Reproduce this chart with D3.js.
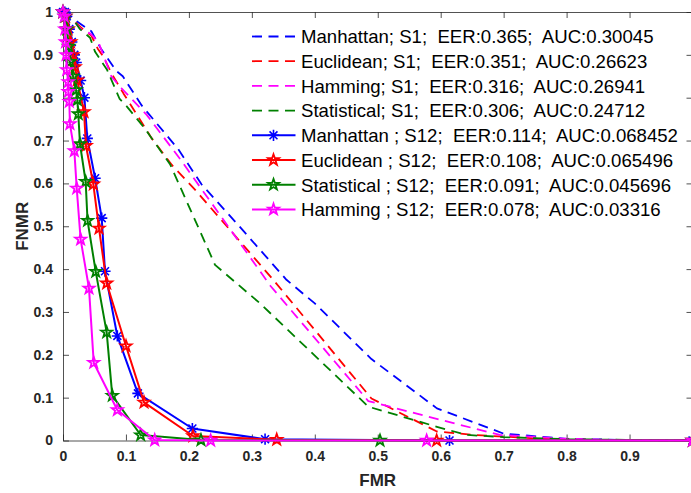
<!DOCTYPE html>
<html>
<head>
<meta charset="utf-8">
<script src="https://cdn.jsdelivr.net/npm/d3@7"></script>
<style>
  body { margin: 0; background: #fff; }
  svg { display: block; }
  text { font-family: "Liberation Sans", Arial, Helvetica, sans-serif; }
</style>
</head>
<body>
<svg id="chart" width="691" height="493"></svg>
<script>
// Tick values for both axes
const xTicks = [0, 0.1, 0.2, 0.3, 0.4, 0.5, 0.6, 0.7, 0.8, 0.9, 1];
const yTicks = [0, 0.1, 0.2, 0.3, 0.4, 0.5, 0.6, 0.7, 0.8, 0.9, 1];

// DET curves, [FMR, FNMR] pairs — session 1 (dashed)
const s1Manhattan = [[0,1],[0.005,0.995],[0.02,0.98],[0.045,0.955],[0.06,0.915],[0.085,0.862],[0.095,0.85],[0.125,0.782],[0.183,0.68],[0.22,0.598],[0.28,0.5],[0.355,0.375],[0.4,0.32],[0.49,0.19],[0.594,0.075],[0.70,0.016],[0.80,0.004],[0.9,0.001],[1,0]];
const s1Euclidean = [[0,1],[0.01,0.99],[0.03,0.962],[0.045,0.945],[0.055,0.915],[0.064,0.896],[0.077,0.857],[0.096,0.81],[0.141,0.705],[0.173,0.643],[0.21,0.585],[0.334,0.375],[0.49,0.098],[0.594,0.021],[0.652,0.013],[0.75,0.005],[0.81,0.002],[1,0]];
const s1Hamming = [[0,1],[0.01,0.99],[0.03,0.958],[0.043,0.95],[0.056,0.931],[0.077,0.849],[0.093,0.822],[0.133,0.76],[0.186,0.657],[0.33,0.36],[0.485,0.092],[0.6,0.048],[0.694,0.013],[0.79,0.005],[0.88,0.001],[1,0]];
const s1Statistical = [[0,1],[0.008,0.99],[0.019,0.977],[0.027,0.96],[0.043,0.94],[0.051,0.907],[0.07,0.865],[0.09,0.797],[0.1,0.782],[0.128,0.732],[0.17,0.645],[0.2415,0.41],[0.313,0.32],[0.485,0.079],[0.594,0.032],[0.641,0.013],[0.7,0.008],[0.8,0.003],[1,0]];

// Session 1–2 combined (solid, with markers)
const s12Manhattan = [[0,1],[0.003,1],[0.006,0.99],[0.01,0.96],[0.014,0.93],[0.018,0.9],[0.021,0.882],[0.028,0.84],[0.034,0.8],[0.0386,0.705],[0.051,0.612],[0.0615,0.519],[0.0667,0.395],[0.0863,0.244],[0.119,0.11],[0.2055,0.028],[0.321,0.003],[0.614,0],[1,0]];
const s12Euclidean = [[0,1],[0.004,0.99],[0.008,0.96],[0.012,0.93],[0.016,0.9],[0.019,0.872],[0.0227,0.841],[0.0334,0.767],[0.0365,0.688],[0.0482,0.598],[0.0572,0.495],[0.0694,0.367],[0.1001,0.2205],[0.1287,0.089],[0.2065,0.0105],[0.3395,0.002],[0.5936,0],[1,0]];
const s12Statistical = [[0,1],[0.003,0.99],[0.006,0.96],[0.009,0.92],[0.011,0.884],[0.016,0.85],[0.0207,0.818],[0.0227,0.795],[0.0243,0.762],[0.027,0.692],[0.036,0.604],[0.039,0.513],[0.052,0.394],[0.0694,0.2525],[0.0783,0.1046],[0.1234,0.0128],[0.2192,0.001],[0.5036,0],[1,0]];
const s12Hamming = [[0,1],[0.002,0.99],[0.003,0.96],[0.004,0.93],[0.005,0.9],[0.0059,0.865],[0.0084,0.837],[0.0084,0.814],[0.01,0.791],[0.011,0.739],[0.018,0.676],[0.0218,0.5886],[0.028,0.4695],[0.0413,0.355],[0.0488,0.1816],[0.0863,0.0712],[0.1457,0.001],[0.2346,0],[0.5777,0],[1,0]];

// Legend entries
const legendLabels = [
  "Manhattan; S1;  EER:0.365;  AUC:0.30045",
  "Euclidean; S1;  EER:0.351;  AUC:0.26623",
  "Hamming; S1;  EER:0.316;  AUC:0.26941",
  "Statistical; S1;  EER:0.306;  AUC:0.24712",
  "Manhattan ; S12;  EER:0.114;  AUC:0.068452",
  "Euclidean ; S12;  EER:0.108;  AUC:0.065496",
  "Statistical ; S12;  EER:0.091;  AUC:0.045696",
  "Hamming ; S12;  EER:0.078;  AUC:0.03316"
];

const series = [
  { data: s1Manhattan,    color: "#0000ff", dashed: true,  marker: null },
  { data: s1Euclidean,    color: "#ff0000", dashed: true,  marker: null },
  { data: s1Hamming,      color: "#ff00ff", dashed: true,  marker: null },
  { data: s1Statistical,  color: "#008000", dashed: true,  marker: null },
  { data: s12Manhattan,   color: "#0000ff", dashed: false, marker: "asterisk" },
  { data: s12Euclidean,   color: "#ff0000", dashed: false, marker: "star" },
  { data: s12Statistical, color: "#008000", dashed: false, marker: "star" },
  { data: s12Hamming,     color: "#ff00ff", dashed: false, marker: "star" }
].map((s, i) => ({ ...s, label: legendLabels[i] }));

const svg = d3.select("#chart");
const plotLeft = 63, plotRight = 692.5, plotTop = 12, plotBottom = 440.5;
const x = d3.scaleLinear().domain([0, 1]).range([plotLeft, plotRight]);
const y = d3.scaleLinear().domain([0, 1]).range([plotBottom, plotTop]);

const axisColor = "#262626";
const fmt = d => String(+d.toFixed(1));
// the x label for 1 falls on the window edge, so it is left out
const fmtX = d => (d >= 1 ? "" : fmt(d));

function styleAxis(g) {
  g.selectAll(".domain").attr("stroke", axisColor).attr("stroke-width", 0.8);
  g.selectAll(".tick line").attr("stroke", axisColor).attr("stroke-width", 0.8);
  g.selectAll(".tick text")
    .attr("fill", axisColor)
    .style("font-size", "14px")
    .style("font-weight", "bold")
    .style("font-family", "'Liberation Sans', Arial, Helvetica, sans-serif");
}

// Box axes with inward ticks
svg.append("g").attr("transform", `translate(0,${plotBottom})`)
  .call(d3.axisBottom(x).tickValues(xTicks).tickSizeInner(-6).tickSizeOuter(0).tickPadding(11).tickFormat(fmtX))
  .call(styleAxis);
svg.append("g").attr("transform", `translate(0,${plotTop})`)
  .call(d3.axisTop(x).tickValues(xTicks).tickSizeInner(-6).tickSizeOuter(0).tickFormat(""))
  .call(styleAxis);
svg.append("g").attr("transform", `translate(${plotLeft},0)`)
  .call(d3.axisLeft(y).tickValues(yTicks).tickSizeInner(-6).tickSizeOuter(0).tickPadding(10).tickFormat(fmt))
  .call(styleAxis);
svg.append("g").attr("transform", `translate(${plotRight},0)`)
  .call(d3.axisRight(y).tickValues(yTicks).tickSizeInner(-6).tickSizeOuter(0).tickFormat(""))
  .call(styleAxis);

// Axis titles
svg.append("text")
  .attr("x", (plotLeft + plotRight) / 2).attr("y", 486)
  .attr("text-anchor", "middle")
  .attr("fill", axisColor)
  .style("font-size", "17px").style("font-weight", "bold")
  .text("FMR");
svg.append("text")
  .attr("transform", `translate(28,${(plotTop + plotBottom) / 2}) rotate(-90)`)
  .attr("text-anchor", "middle")
  .attr("fill", axisColor)
  .style("font-size", "17px").style("font-weight", "bold")
  .text("FNMR");

// Marker shapes
const starPath = (r) => {
  const pts = [];
  for (let k = 0; k < 10; k++) {
    const rad = k % 2 === 0 ? r : r * 0.4;
    const a = -Math.PI / 2 + k * Math.PI / 5;
    pts.push([rad * Math.cos(a), rad * Math.sin(a)]);
  }
  return "M" + pts.map(p => p.join(",")).join("L") + "Z";
};
const asteriskPath = (r) => {
  const d = r * Math.SQRT1_2;
  return `M0,${-r}L0,${r}M${-r},0L${r},0M${-d},${-d}L${d},${d}M${-d},${d}L${d},${-d}`;
};

function drawMarker(g, type, color) {
  if (type === "star") {
    g.append("path").attr("d", starPath(5.8))
      .attr("fill", "none").attr("stroke", color).attr("stroke-width", 1.8)
      .attr("stroke-linejoin", "miter");
  } else if (type === "asterisk") {
    g.append("path").attr("d", asteriskPath(5.6))
      .attr("fill", "none").attr("stroke", color).attr("stroke-width", 1.6);
  }
}

const line = d3.line().x(d => x(d[0])).y(d => y(d[1]));
const dash = "10,6.5";

// Curves
series.forEach(s => {
  const g = svg.append("g");
  g.append("path")
    .datum(s.data)
    .attr("d", line)
    .attr("fill", "none")
    .attr("stroke", s.color)
    .attr("stroke-width", s.dashed ? 1.8 : 2)
    .attr("stroke-dasharray", s.dashed ? dash : null)
    .attr("stroke-linejoin", "round");
  if (s.marker) {
    g.selectAll("g.mk").data(s.data).join("g")
      .attr("class", "mk")
      .attr("transform", d => `translate(${x(d[0])},${y(d[1])})`)
      .each(function () { drawMarker(d3.select(this), s.marker, s.color); });
  }
});

// Legend (no box)
const legend = svg.append("g");
const rowGap = 24.7, baseline0 = 43.3;
series.forEach((s, i) => {
  const by = baseline0 + i * rowGap;
  const cy = by - 6.8;
  const row = legend.append("g");
  row.append("line")
    .attr("x1", 252).attr("x2", 295.5).attr("y1", cy).attr("y2", cy)
    .attr("stroke", s.color)
    .attr("stroke-width", s.dashed ? 1.8 : 2)
    .attr("stroke-dasharray", s.dashed ? dash : null);
  if (s.marker) {
    const m = row.append("g").attr("transform", `translate(273.5,${cy})`);
    drawMarker(m, s.marker, s.color);
  }
  row.append("text")
    .attr("x", 301).attr("y", by)
    .attr("fill", "#000")
    .style("font-size", "18.6px")
    .style("white-space", "pre")
    .attr("xml:space", "preserve")
    .text(s.label);
});
</script>
</body>
</html>
